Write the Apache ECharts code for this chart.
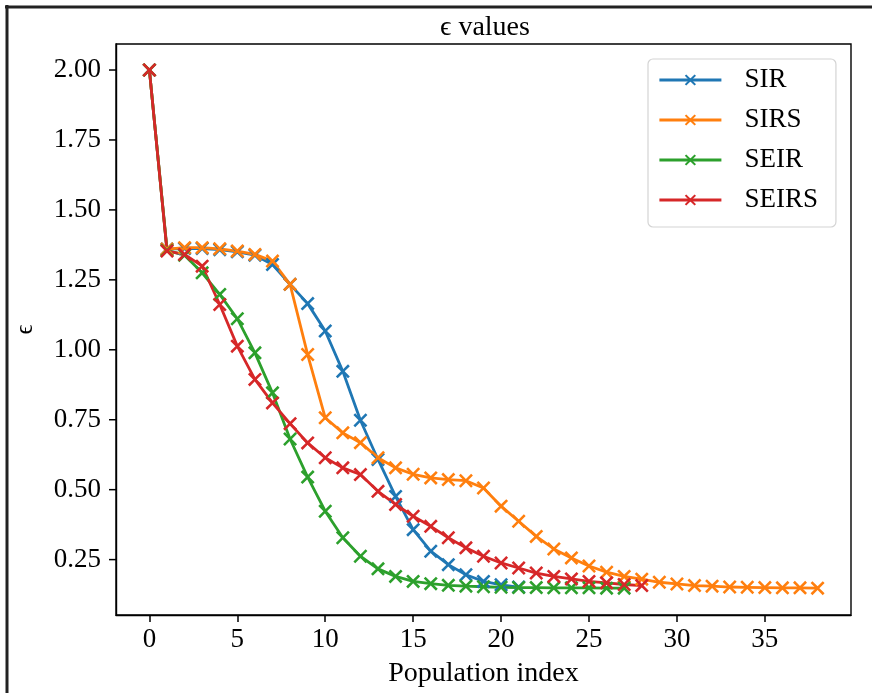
<!DOCTYPE html>
<html>
<head>
<meta charset="utf-8">
<script src="https://cdn.jsdelivr.net/npm/echarts@6/dist/echarts.min.js"></script>
<style>
html,body{margin:0;padding:0;background:#fff;}
#chart{width:872px;height:693px;}
</style>
</head>
<body>
<div id="chart"></div>
<script>
// ---- data (index = population index) ----
var seriesNames = ['SIR', 'SIRS', 'SEIR', 'SEIRS'];
var sirValues = [2.0, 1.360, 1.362, 1.362, 1.358, 1.350, 1.338, 1.305, 1.234, 1.165, 1.067, 0.923, 0.748, 0.608, 0.476, 0.357, 0.280, 0.232, 0.196, 0.172, 0.160, 0.152];
var sirsValues = [2.0, 1.360, 1.365, 1.365, 1.361, 1.353, 1.341, 1.317, 1.234, 0.983, 0.757, 0.703, 0.668, 0.614, 0.578, 0.555, 0.542, 0.536, 0.532, 0.506, 0.441, 0.387, 0.333, 0.288, 0.256, 0.227, 0.205, 0.190, 0.180, 0.169, 0.163, 0.157, 0.155, 0.152, 0.151, 0.150, 0.149, 0.149, 0.148];
var seirValues = [2.0, 1.355, 1.338, 1.275, 1.198, 1.111, 0.989, 0.846, 0.681, 0.545, 0.423, 0.328, 0.262, 0.217, 0.190, 0.172, 0.164, 0.158, 0.155, 0.153, 0.151, 0.150, 0.150, 0.149, 0.149, 0.149, 0.148, 0.148];
var seirsValues = [2.0, 1.353, 1.341, 1.299, 1.162, 1.013, 0.894, 0.810, 0.736, 0.667, 0.614, 0.578, 0.554, 0.494, 0.447, 0.405, 0.369, 0.328, 0.292, 0.262, 0.238, 0.220, 0.202, 0.190, 0.181, 0.172, 0.167, 0.161, 0.157];
var xTicks = [0, 5, 10, 15, 20, 25, 30, 35];
var yTicks = [0.25, 0.50, 0.75, 1.00, 1.25, 1.50, 1.75, 2.00];
var colors = ['#1f77b4', '#ff7f0e', '#2ca02c', '#d62728'];

var FONT = "'Liberation Serif', 'DejaVu Serif', serif";
var X_SYMBOL = 'path://M1.3,0 L5,3.7 L8.7,0 L10,1.3 L6.3,5 L10,8.7 L8.7,10 L5,6.3 L1.3,10 L0,8.7 L3.7,5 L0,1.3 Z';
var X_MIN = -1.9, X_MAX = 39.9;
var Y_MIN = 0.052, Y_MAX = 2.093;
var TICK_LEN = 7;

function toPoints(arr) { return arr.map(function (v, i) { return [i, v]; }); }
var allValues = [sirValues, sirsValues, seirValues, seirsValues];

var lineSeries = seriesNames.map(function (name, k) {
  return {
    name: name, type: 'line',
    data: toPoints(allValues[k]),
    color: colors[k],
    lineStyle: {width: 2.8, color: colors[k]},
    symbol: X_SYMBOL, symbolSize: 14, showSymbol: true,
    itemStyle: {color: colors[k]},
    emphasis: {disabled: true}
  };
});

// y-axis tick marks (outside, on the left spine), positioned through the axis scale
var yTickSeries = {
  name: 'yTicks', type: 'custom', silent: true, clip: false, z: 10,
  data: yTicks.map(function (v) { return [X_MIN, v]; }),
  renderItem: function (params, api) {
    var p = api.coord([api.value(0), api.value(1)]);
    return {
      type: 'line',
      shape: {x1: p[0] - TICK_LEN, y1: p[1], x2: p[0], y2: p[1]},
      style: {stroke: '#000', lineWidth: 1.5}
    };
  }
};

var chart = echarts.init(document.getElementById('chart'), null, {renderer: 'canvas'});
chart.setOption({
  animation: false,
  backgroundColor: '#fff',
  title: {
    text: 'ϵ values',
    left: 480, top: 9, textAlign: 'center',
    textStyle: {fontFamily: FONT, fontSize: 28, fontWeight: 'normal', color: '#000'}
  },
  grid: {left: 116, top: 44, right: 21, bottom: 78, show: true, borderColor: '#000', borderWidth: 1.4, backgroundColor: 'transparent'},
  legend: {
    orient: 'vertical', left: 648, top: 59,
    padding: [6, 18, 12, 10],
    itemGap: 10, itemWidth: 62, itemHeight: 14,
    backgroundColor: '#fff', borderColor: '#d4d4d4', borderWidth: 1.2, borderRadius: 5,
    lineStyle: {width: 2.8},
    textStyle: {fontFamily: FONT, fontSize: 27, lineHeight: 30, color: '#000', padding: [0, 0, 0, 18]},
    data: seriesNames
  },
  xAxis: {
    type: 'value', min: X_MIN, max: X_MAX,
    name: 'Population index', nameLocation: 'middle', nameGap: 45,
    nameTextStyle: {fontFamily: FONT, fontSize: 28, color: '#000'},
    axisLine: {show: true, onZero: false, lineStyle: {color: '#000', width: 1.4}},
    axisTick: {show: true, inside: false, length: TICK_LEN, lineStyle: {color: '#000', width: 1.5}, customValues: xTicks},
    axisLabel: {fontFamily: FONT, fontSize: 27, color: '#000', margin: 11, customValues: xTicks},
    splitLine: {show: false}
  },
  yAxis: {
    type: 'value', min: Y_MIN, max: Y_MAX, position: 'left',
    name: 'ϵ', nameLocation: 'middle', nameGap: 78, nameRotate: 90,
    nameTextStyle: {fontFamily: FONT, fontSize: 25, color: '#000'},
    axisLine: {show: true, onZero: false, lineStyle: {color: '#000', width: 1.4}},
    axisTick: {show: false},
    axisLabel: {fontFamily: FONT, fontSize: 27, color: '#000', margin: 15, customValues: yTicks,
      formatter: function (v) { return v.toFixed(2); }},
    splitLine: {show: false}
  },
  graphic: [
    {type: 'line', shape: {x1: 5, y1: 7, x2: 872, y2: 7}, style: {stroke: '#222', lineWidth: 3}, z: 100},
    {type: 'line', shape: {x1: 7, y1: 5, x2: 7, y2: 693}, style: {stroke: '#222', lineWidth: 3}, z: 100}
  ],
  series: lineSeries.concat([yTickSeries])
});
</script>
</body>
</html>
